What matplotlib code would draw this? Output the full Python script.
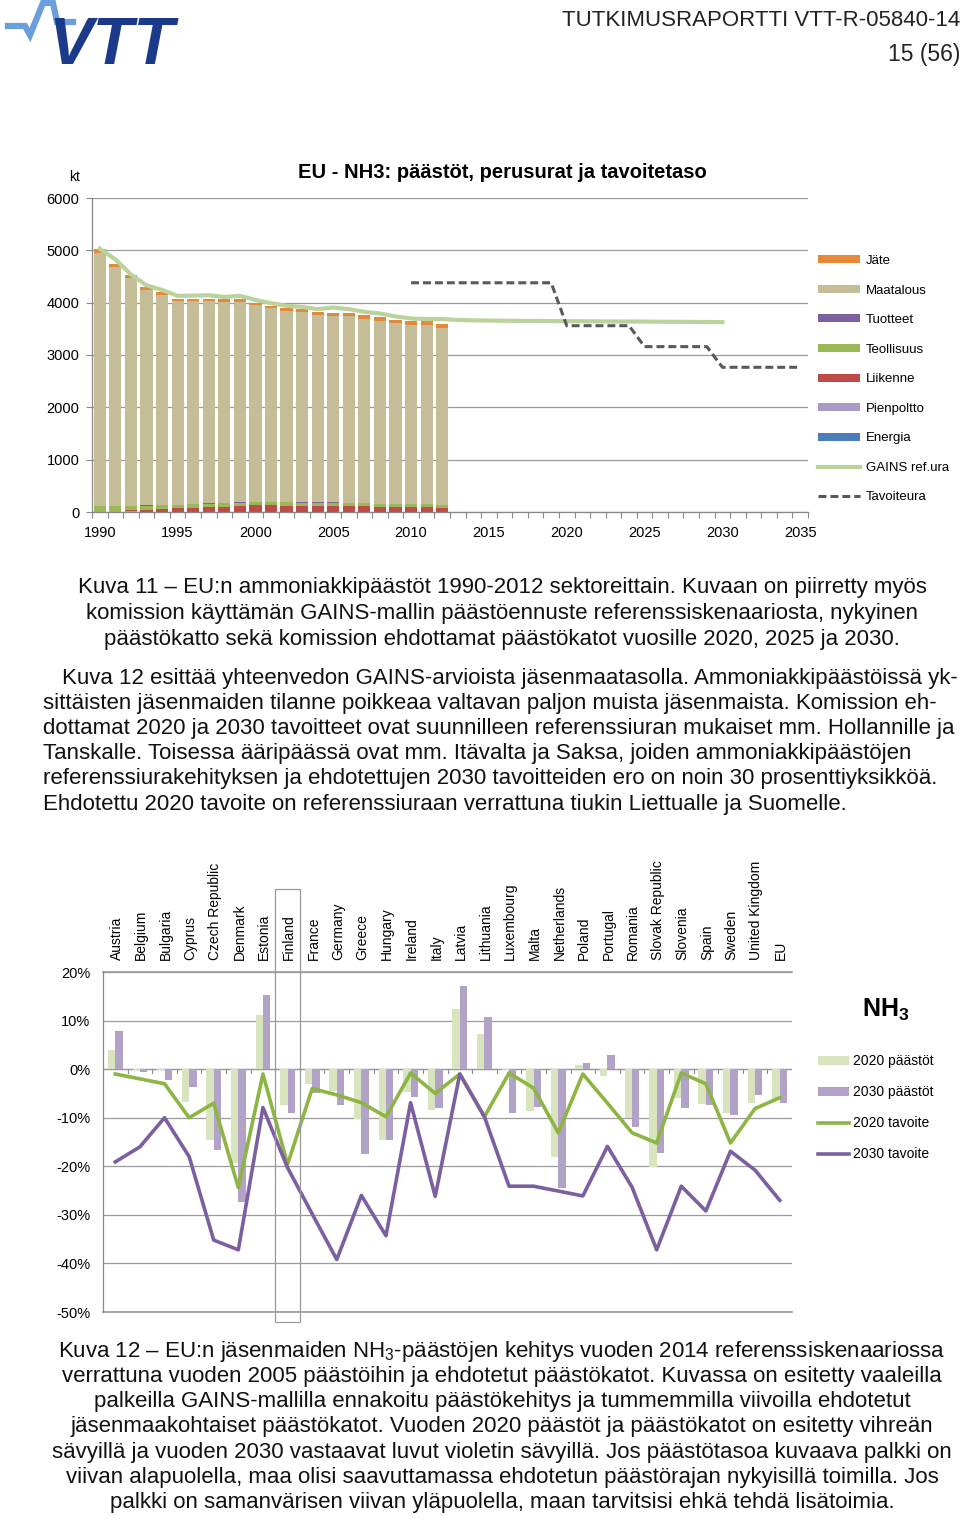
import numpy as np
import matplotlib
matplotlib.use("Agg")
import matplotlib.pyplot as plt
from matplotlib.patches import Patch, Rectangle
from matplotlib.lines import Line2D

plt.rcParams['font.family'] = ['Liberation Sans', 'DejaVu Sans']
plt.rcParams['mathtext.fontset'] = 'custom'
plt.rcParams['mathtext.rm'] = 'Liberation Sans'
plt.rcParams['mathtext.bf'] = 'Liberation Sans:bold'
plt.rcParams['mathtext.it'] = 'Liberation Sans:italic'

W, H = 960, 1519

# ---- data: kuva 11 (kt NH3), 1990-2012
years = list(range(1990, 2036))
energia = [6, 6, 6, 5, 5, 5, 5, 5, 5, 5, 5, 5, 5, 5, 5, 5, 5, 5, 5, 5, 5, 5, 5]
pienpoltto = [4, 4, 4, 4, 4, 4, 4, 4, 4, 4, 4, 4, 4, 4, 4, 4, 4, 4, 4, 4, 4, 4, 4]
liikenne = [12, 18, 25, 35, 45, 58, 70, 82, 95, 105, 118, 118, 115, 112, 110, 108, 103, 98, 92, 88, 84, 80, 76]
teollisuus = [90, 85, 82, 78, 75, 72, 70, 68, 66, 64, 62, 60, 60, 60, 62, 62, 62, 58, 56, 52, 54, 55, 52]
tuotteet = [3, 3, 3, 4, 4, 4, 4, 4, 4, 4, 4, 4, 4, 4, 4, 4, 4, 4, 4, 4, 4, 4, 4]
maatalous = [4827, 4568, 4347, 4119, 4022, 3891, 3881, 3871, 3847, 3839, 3760, 3699, 3646, 3631,
             3575, 3559, 3564, 3528, 3486, 3450, 3415, 3418, 3374]
jate = [75, 60, 55, 55, 50, 45, 45, 45, 45, 45, 50, 50, 55, 60, 65, 70, 70, 65, 70, 70, 75, 75, 75]

gains_ref = [5030, 4827, 4540, 4332, 4243, 4130, 4135, 4142, 4110, 4130, 4053, 3990, 3939, 3920,
             3876, 3907, 3876, 3825, 3793, 3737, 3698, 3686, 3686,
             3670, 3662, 3658, 3655, 3652, 3650, 3648, 3646, 3645, 3643, 3641, 3640, 3638, 3636,
             3634, 3632, 3630, 3628]
tavoiteura = [None] * 20 + [4380] * 10 + [3560] * 5 + [3160] * 5 + [2765] * 6

# ---- data: kuva 12 (% muutos vs 2005)
maat = ['Austria', 'Belgium', 'Bulgaria', 'Cyprus', 'Czech Republic', 'Denmark', 'Estonia',
        'Finland', 'France', 'Germany', 'Greece', 'Hungary', 'Ireland', 'Italy', 'Latvia',
        'Lithuania', 'Luxembourg', 'Malta', 'Netherlands', 'Poland', 'Portugal', 'Romania',
        'Slovak Republic', 'Slovenia', 'Spain', 'Sweden', 'United Kingdom', 'EU']
paastot_2020 = [3.9, -0.3, -0.2, -6.8, -14.6, -19.4, 11.1, -7.3, -3.1, -4.6, -10.3, -14.5, -4.8,
                -8.4, 12.4, 7.2, -0.1, -8.6, -18.1, 0.8, -1.5, -10.1, -20.1, -5.9, -7.2, -9.1,
                -7.0, -6.1]
paastot_2030 = [7.8, -0.6, -2.3, -3.7, -16.6, -27.4, 15.2, -9.0, -4.9, -7.4, -17.4, -14.5, -5.7,
                -8.1, 17.2, 10.7, -9.1, -7.7, -24.4, 1.2, 3.0, -12.0, -17.2, -8.0, -7.4, -9.4,
                -5.4, -7.0]
tavoite_2020 = [-1.0, -2.0, -3.0, -10.0, -7.0, -24.4, -1.0, -19.6, -4.0, -5.3, -6.9, -9.8, -0.8,
                -5.0, -1.0, -9.8, -0.8, -3.9, -13.1, -1.0, -7.0, -13.1, -15.2, -0.8, -3.0, -15.2,
                -8.1, -5.9]
tavoite_2030 = [-19.1, -16.0, -10.0, -18.0, -35.2, -37.2, -7.9, -20.3, -29.8, -39.2, -26.0, -34.3,
                -6.9, -26.2, -1.0, -9.8, -24.1, -24.1, -25.1, -26.1, -15.9, -24.3, -37.2, -24.1,
                -29.2, -16.9, -20.8, -27.0]

fig = plt.figure(figsize=(W / 100, H / 100), dpi=100)


def fx(px):
    return px / W


def fy(py):
    return 1 - py / H


# ---------- header
fig.text(fx(960), fy(20), 'TUTKIMUSRAPORTTI VTT-R-05840-14', ha='right', va='center',
         fontsize=16, family=['Liberation Sans Narrow', 'Liberation Sans'], color='#222222')
fig.text(fx(960), fy(55), '15 (56)', ha='right', va='center',
         fontsize=16.5, family=['Liberation Sans Narrow', 'Liberation Sans'], color='#222222')
px = np.array([8, 25, 30, 43, 53, 57, 73])
py = np.array([26, 26, 35, 3, 3, 22, 22])
fig.add_artist(Line2D(fx(px), fy(py), color='#6a9fdc', lw=4.5, solid_joinstyle='miter'))
fig.text(fx(48), fy(64), 'VTT', ha='left', va='baseline', fontsize=48, fontweight='bold',
         fontstyle='italic', color='#1b3a8c')

# ---------- kuva 11
ax1 = fig.add_axes([fx(92), fy(512), fx(716), (512 - 198) / H])
n = len(maatalous)
xb = np.arange(n)
kerrokset = [('Energia', energia, '#4a7ebb'), ('Pienpoltto', pienpoltto, '#a99bc6'),
             ('Liikenne', liikenne, '#be4b48'), ('Teollisuus', teollisuus, '#98b954'),
             ('Tuotteet', tuotteet, '#7d60a0'), ('Maatalous', maatalous, '#c4bd97'),
             ('Jäte', jate, '#e4883a')]
pohja = np.zeros(n)
handles = []
for nimi, arvot, vari in kerrokset:
    ax1.bar(xb, arvot, 0.78, bottom=pohja, color=vari, linewidth=0, zorder=2)
    pohja = pohja + np.array(arvot)
    handles.append(Patch(facecolor=vari, label=nimi))
handles = handles[::-1]

viiva = (0, (2.6, 1.3))
ax1.plot(np.arange(len(gains_ref)), gains_ref, color='#b9d39a', lw=3, zorder=3,
         solid_joinstyle='round')
tav = np.array([np.nan if v is None else v for v in tavoiteura], dtype=float)
ax1.plot(np.arange(len(years)), tav, color='#595959', lw=2.2, ls=viiva, zorder=3)
handles.append(Line2D([], [], color='#b9d39a', lw=3, label='GAINS ref.ura'))
handles.append(Line2D([], [], color='#595959', lw=2.2, ls=viiva, label='Tavoiteura'))

ax1.set_xlim(-0.5, len(years) - 0.5)
ax1.set_ylim(0, 6000)
ax1.set_yticks(range(0, 7000, 1000))
ax1.set_yticklabels([str(v) for v in range(0, 7000, 1000)], fontsize=10.5)
ax1.set_xticks(np.arange(0, len(years), 5))
ax1.set_xticklabels([str(years[i]) for i in range(0, len(years), 5)], fontsize=10.5)
ax1.set_xticks(np.arange(-0.5, len(years), 1), minor=True)
ax1.tick_params(axis='x', which='major', length=0, pad=10)
ax1.tick_params(axis='x', which='minor', length=4, color='#888888', width=0.8)
ax1.tick_params(axis='y', length=4, color='#888888', width=0.8, pad=5)
ax1.grid(axis='y', color='#9a9a9a', lw=0.9, zorder=0)
for s in ['top', 'right']:
    ax1.spines[s].set_visible(False)
for s in ['left', 'bottom']:
    ax1.spines[s].set_color('#888888')
    ax1.spines[s].set_linewidth(0.9)
ax1.set_axisbelow(True)

fig.text(fx(75), fy(177), 'kt', ha='center', va='center', fontsize=10)
fig.text(fx(502), fy(172), 'EU - NH3: päästöt, perusurat ja tavoitetaso', ha='center',
         va='center', fontsize=14.5, fontweight='bold')
fig.legend(handles=handles, loc='upper left', bbox_to_anchor=(fx(818), fy(255)),
           frameon=False, fontsize=9.5, handlelength=3.2, handleheight=0.55,
           handletextpad=0.45, labelspacing=1.33, borderpad=0, borderaxespad=0)

# ---------- tekstit
teksti = dict(fontsize=16, color='#111111')
kuva11 = ['Kuva 11 – EU:n ammoniakkipäästöt 1990-2012 sektoreittain. Kuvaan on piirretty myös',
          'komission käyttämän GAINS-mallin päästöennuste referenssiskenaariosta, nykyinen',
          'päästökatto sekä komission ehdottamat päästökatot vuosille 2020, 2025 ja 2030.']
for i, rivi in enumerate(kuva11):
    fig.text(fx(502), fy(588 + i * 25.5), rivi, ha='center', va='center', **teksti)

kappale = ['Kuva 12 esittää yhteenvedon GAINS-arvioista jäsenmaatasolla. Ammoniakkipäästöissä yk-',
           'sittäisten jäsenmaiden tilanne poikkeaa valtavan paljon muista jäsenmaista. Komission eh-',
           'dottamat 2020 ja 2030 tavoitteet ovat suunnilleen referenssiuran mukaiset mm. Hollannille ja',
           'Tanskalle. Toisessa ääripäässä ovat mm. Itävalta ja Saksa, joiden ammoniakkipäästöjen',
           'referenssiurakehityksen ja ehdotettujen 2030 tavoitteiden ero on noin 30 prosenttiyksikköä.',
           'Ehdotettu 2020 tavoite on referenssiuraan verrattuna tiukin Liettualle ja Suomelle.']
for i, rivi in enumerate(kappale):
    x0 = 62 if i == 0 else 43
    fig.text(fx(x0), fy(678 + i * 25.2), rivi, ha='left', va='center', **teksti)

kuva12 = ['Kuva 12 – EU:n jäsenmaiden NH$_3$-päästöjen kehitys vuoden 2014 referenssiskenaariossa',
          'verrattuna vuoden 2005 päästöihin ja ehdotetut päästökatot. Kuvassa on esitetty vaaleilla',
          'palkeilla GAINS-mallilla ennakoitu päästökehitys ja tummemmilla viivoilla ehdotetut',
          'jäsenmaakohtaiset päästökatot. Vuoden 2020 päästöt ja päästökatot on esitetty vihreän',
          'sävyillä ja vuoden 2030 vastaavat luvut violetin sävyillä. Jos päästötasoa kuvaava palkki on',
          'viivan alapuolella, maa olisi saavuttamassa ehdotetun päästörajan nykyisillä toimilla. Jos',
          'palkki on samanvärisen viivan yläpuolella, maan tarvitsisi ehkä tehdä lisätoimia.']
for i, rivi in enumerate(kuva12):
    fig.text(fx(502), fy(1351 + i * 25.3), rivi, ha='center', va='center', **teksti)

# ---------- kuva 12
ax2 = fig.add_axes([fx(103), fy(1312), fx(689), (1312 - 972) / H])
xc = np.arange(len(maat))
ax2.bar(xc - 0.15, paastot_2020, 0.3, color='#d7e4bd', linewidth=0, zorder=2)
ax2.bar(xc + 0.15, paastot_2030, 0.3, color='#b3a2c7', linewidth=0, zorder=2)
ax2.plot(xc, tavoite_2020, color='#8cb543', lw=2.6, zorder=3)
ax2.plot(xc, tavoite_2030, color='#7b5fa0', lw=2.6, zorder=3)
ax2.set_xlim(-0.5, len(maat) - 0.5)
ax2.set_ylim(-50, 20)
ax2.set_yticks(range(-50, 30, 10))
ax2.set_yticklabels(['%d%%' % v for v in range(-50, 30, 10)], fontsize=10.5)
ax2.tick_params(axis='y', length=0, pad=9)
ax2.set_xticks([])
ax2.grid(axis='y', color='#9a9a9a', lw=0.9, zorder=0)
for s in ['top', 'right', 'bottom']:
    ax2.spines[s].set_visible(False)
ax2.spines['left'].set_color('#888888')
ax2.spines['left'].set_linewidth(0.9)
ax2.axhline(0, color='#888888', lw=0.9, zorder=1)
ax2.axhline(-50, color='#9a9a9a', lw=1.2, zorder=1, clip_on=False)
ax2.axhline(20, color='#9a9a9a', lw=1.2, zorder=1, clip_on=False)
for b in np.arange(-0.5, len(maat), 1):
    ax2.plot([b, b], [0, -0.7], color='#888888', lw=0.8, zorder=1)
tr = ax2.get_xaxis_transform()
for i, m in enumerate(maat):
    ax2.text(i + 0.05, 1.035, m, rotation=90, ha='center', va='bottom', fontsize=10,
             transform=tr)
ax2.add_patch(Rectangle((6.5, -52), 1.0, 89, fill=False, edgecolor='#999999', lw=0.9,
                        clip_on=False, zorder=4))

fig.text(fx(862), fy(1010), r'$\mathbf{NH_3}$', ha='left', va='center', fontsize=18)
h2 = [Patch(facecolor='#d7e4bd', label='2020 päästöt'),
      Patch(facecolor='#b3a2c7', label='2030 päästöt'),
      Line2D([], [], color='#8cb543', lw=2.6, label='2020 tavoite'),
      Line2D([], [], color='#7b5fa0', lw=2.6, label='2030 tavoite')]
fig.legend(handles=h2, loc='upper left', bbox_to_anchor=(fx(818), fy(1054)), frameon=False,
           fontsize=10, handlelength=2.2, handleheight=0.6, handletextpad=0.35,
           labelspacing=1.23, borderpad=0, borderaxespad=0)

fig.savefig('out.png', dpi=100)
